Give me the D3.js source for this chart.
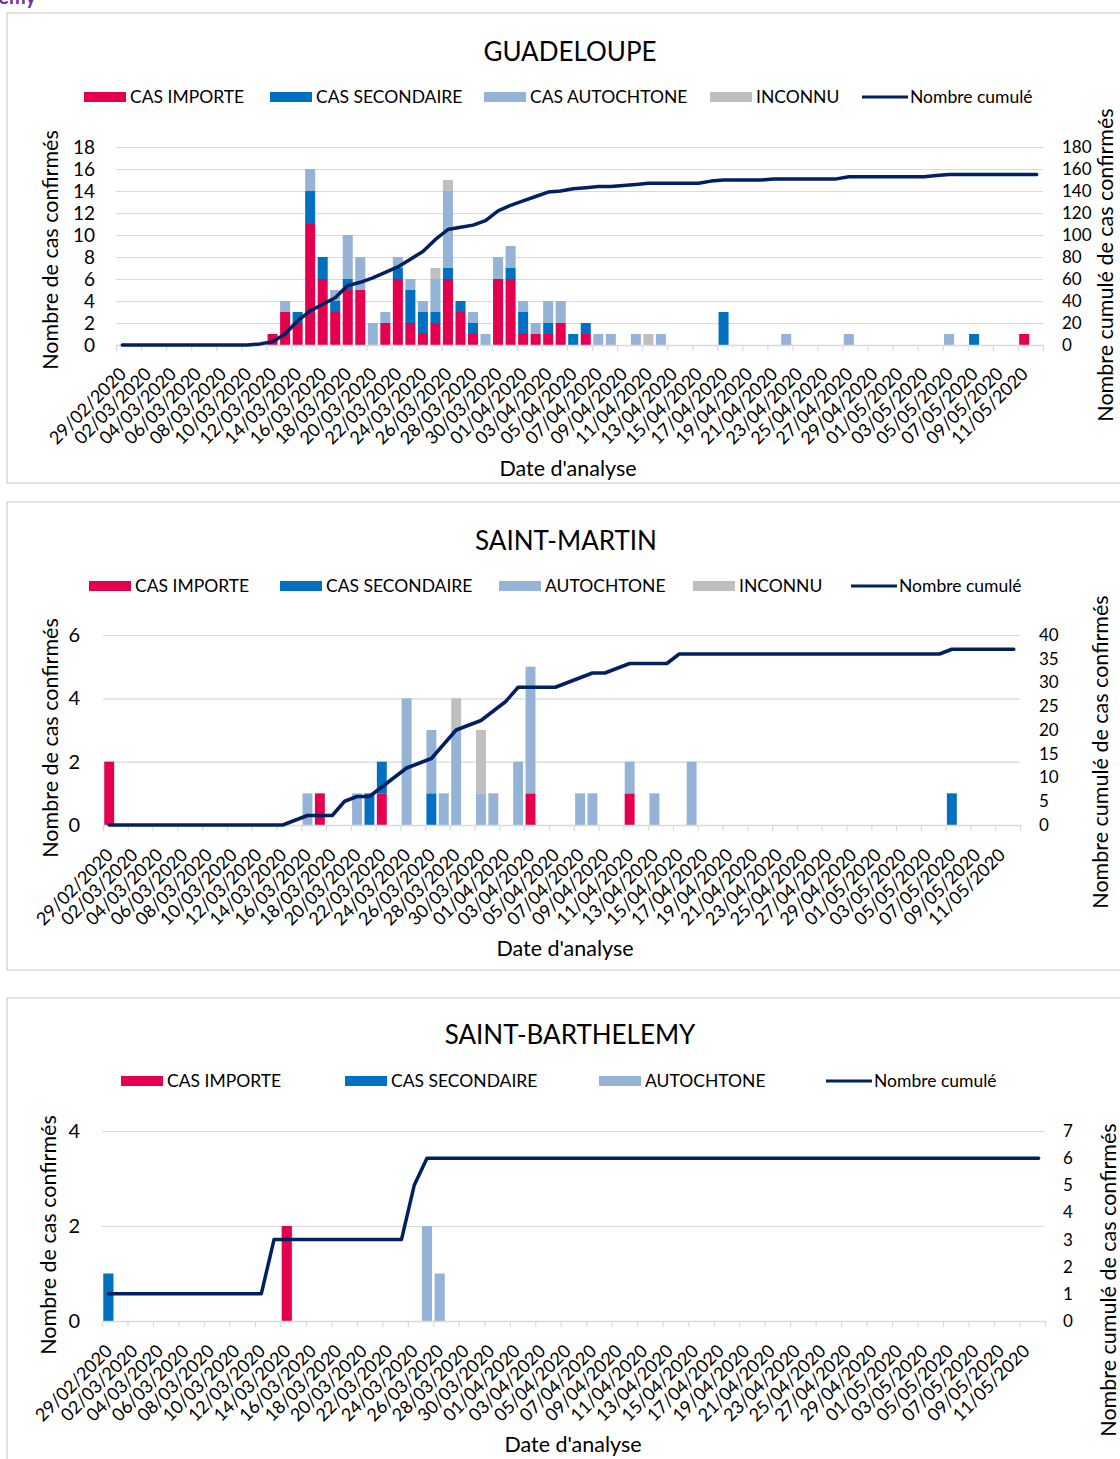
<!DOCTYPE html>
<html>
<head>
<meta charset="utf-8">
<script src="https://cdn.jsdelivr.net/npm/d3@7"></script>
<style>
  body { margin: 0; background: #fff; }
  text { font-family: Lato, "Open Sans", sans-serif; fill: #000; }
</style>
</head>
<body>
<div id="chart"></div>
<script>
// x categories : one per day, 29/02/2020 -> 12/05/2020 (74 days), labelled every 2 days
const tickLabels = [
  "29/02/2020", "02/03/2020", "04/03/2020", "06/03/2020", "08/03/2020", "10/03/2020",
  "12/03/2020", "14/03/2020", "16/03/2020", "18/03/2020", "20/03/2020", "22/03/2020",
  "24/03/2020", "26/03/2020", "28/03/2020", "30/03/2020", "01/04/2020", "03/04/2020",
  "05/04/2020", "07/04/2020", "09/04/2020", "11/04/2020", "13/04/2020", "15/04/2020",
  "17/04/2020", "19/04/2020", "21/04/2020", "23/04/2020", "25/04/2020", "27/04/2020",
  "29/04/2020", "01/05/2020", "03/05/2020", "05/05/2020", "07/05/2020", "09/05/2020",
  "11/05/2020"
];
const nDays = 74;

// ---- Guadeloupe
const gpImporte = [
  0,0,0,0,0,0,0,0,0,0,
  0,0,1,3,2,11,6,3,5,5,
  0,2,6,2,1,2,6,3,1,0,
  6,6,1,1,1,2,0,1,0,0,
  0,0,0,0,0,0,0,0,0,0,
  0,0,0,0,0,0,0,0,0,0,
  0,0,0,0,0,0,0,0,0,0,
  0,0,1,0
];
const gpSecondaire = [
  0,0,0,0,0,0,0,0,0,0,
  0,0,0,0,1,3,2,1,1,0,
  0,0,1,3,2,1,1,1,1,0,
  0,1,2,0,1,0,1,1,0,0,
  0,0,0,0,0,0,0,0,3,0,
  0,0,0,0,0,0,0,0,0,0,
  0,0,0,0,0,0,0,0,1,0,
  0,0,0,0
];
const gpAutochtone = [
  0,0,0,0,0,0,0,0,0,0,
  0,0,0,1,0,2,0,1,4,3,
  2,1,1,1,1,3,7,0,1,1,
  2,2,1,1,2,2,0,0,1,1,
  0,1,0,1,0,0,0,0,0,0,
  0,0,0,1,0,0,0,0,1,0,
  0,0,0,0,0,0,1,0,0,0,
  0,0,0,0
];
const gpInconnu = [
  0,0,0,0,0,0,0,0,0,0,
  0,0,0,0,0,0,0,0,0,0,
  0,0,0,0,0,1,1,0,0,0,
  0,0,0,0,0,0,0,0,0,0,
  0,0,1,0,0,0,0,0,0,0,
  0,0,0,0,0,0,0,0,0,0,
  0,0,0,0,0,0,0,0,0,0,
  0,0,0,0
];
const gpCumul = [
  0,0,0,0,0,0,0,0,0,0,
  0,1,3,10,22,31,37,43,54,57,
  61,66,71,78,85,96,105,107,109,113,
  122,127,131,135,139,140,142,143,144,144,
  145,146,147,147,147,147,147,149,150,150,
  150,150,151,151,151,151,151,151,153,153,
  153,153,153,153,153,154,155,155,155,155,
  155,155,155,155
];

// ---- Saint-Martin
const smImporte = [
  2,0,0,0,0,0,0,0,0,0,
  0,0,0,0,0,0,0,1,0,0,
  0,0,1,0,0,0,0,0,0,0,
  0,0,0,0,1,0,0,0,0,0,
  0,0,1,0,0,0,0,0,0,0,
  0,0,0,0,0,0,0,0,0,0,
  0,0,0,0,0,0,0,0,0,0,
  0,0,0,0
];
const smSecondaire = [
  0,0,0,0,0,0,0,0,0,0,
  0,0,0,0,0,0,0,0,0,0,
  0,1,1,0,0,0,1,0,0,0,
  0,0,0,0,0,0,0,0,0,0,
  0,0,0,0,0,0,0,0,0,0,
  0,0,0,0,0,0,0,0,0,0,
  0,0,0,0,0,0,0,0,1,0,
  0,0,0,0
];
const smAutochtone = [
  0,0,0,0,0,0,0,0,0,0,
  0,0,0,0,0,0,1,0,0,0,
  1,0,0,0,4,0,2,1,3,0,
  1,1,0,2,4,0,0,0,1,1,
  0,0,1,0,1,0,0,2,0,0,
  0,0,0,0,0,0,0,0,0,0,
  0,0,0,0,0,0,0,0,0,0,
  0,0,0,0
];
const smInconnu = [
  0,0,0,0,0,0,0,0,0,0,
  0,0,0,0,0,0,0,0,0,0,
  0,0,0,0,0,0,0,0,1,0,
  2,0,0,0,0,0,0,0,0,0,
  0,0,0,0,0,0,0,0,0,0,
  0,0,0,0,0,0,0,0,0,0,
  0,0,0,0,0,0,0,0,0,0,
  0,0,0,0
];
const smCumul = [
  0,0,0,0,0,0,0,0,0,0,
  0,0,0,0,0,1,2,2,2,5,
  6,6,8,10,12,13,14,17,20,21,
  22,24,26,29,29,29,29,30,31,32,
  32,33,34,34,34,34,36,36,36,36,
  36,36,36,36,36,36,36,36,36,36,
  36,36,36,36,36,36,36,36,37,37,
  37,37,37,37
];

// ---- Saint-Barthelemy
const sbImporte = [
  0,0,0,0,0,0,0,0,0,0,
  0,0,0,0,2,0,0,0,0,0,
  0,0,0,0,0,0,0,0,0,0,
  0,0,0,0,0,0,0,0,0,0,
  0,0,0,0,0,0,0,0,0,0,
  0,0,0,0,0,0,0,0,0,0,
  0,0,0,0,0,0,0,0,0,0,
  0,0,0,0
];
const sbSecondaire = [
  1,0,0,0,0,0,0,0,0,0,
  0,0,0,0,0,0,0,0,0,0,
  0,0,0,0,0,0,0,0,0,0,
  0,0,0,0,0,0,0,0,0,0,
  0,0,0,0,0,0,0,0,0,0,
  0,0,0,0,0,0,0,0,0,0,
  0,0,0,0,0,0,0,0,0,0,
  0,0,0,0
];
const sbAutochtone = [
  0,0,0,0,0,0,0,0,0,0,
  0,0,0,0,0,0,0,0,0,0,
  0,0,0,0,0,2,1,0,0,0,
  0,0,0,0,0,0,0,0,0,0,
  0,0,0,0,0,0,0,0,0,0,
  0,0,0,0,0,0,0,0,0,0,
  0,0,0,0,0,0,0,0,0,0,
  0,0,0,0
];
const sbCumul = [
  1,1,1,1,1,1,1,1,1,1,
  1,1,1,3,3,3,3,3,3,3,
  3,3,3,3,5,6,6,6,6,6,
  6,6,6,6,6,6,6,6,6,6,
  6,6,6,6,6,6,6,6,6,6,
  6,6,6,6,6,6,6,6,6,6,
  6,6,6,6,6,6,6,6,6,6,
  6,6,6,6
];

const colors = {
  importe: "#e4004f",
  secondaire: "#0070c0",
  autochtone: "#95b3d7",
  inconnu: "#bfbfbf",
  cumul: "#002060"
};
const gridColor = "#d9d9d9";

const W = 1120, H = 1459;
const svg = d3.select("#chart").append("svg")
  .attr("xmlns", "http://www.w3.org/2000/svg")
  .attr("width", W)
  .attr("height", H);

// cut-off heading of the page above
svg.append("text")
  .attr("x", 36).attr("y", 4)
  .attr("text-anchor", "end")
  .style("font-weight", "bold")
  .style("font-size", "20px")
  .style("fill", "#7030a0")
  .text("Barthélemy");

function drawPanel(cfg) {
  const { box, title, titleY, legendY, legend, plot, left, right } = cfg;

  const g = svg.append("g");

  g.append("rect")
    .attr("x", box.x).attr("y", box.y)
    .attr("width", box.w).attr("height", box.h)
    .attr("fill", "#fff")
    .attr("stroke", gridColor)
    .attr("stroke-width", 1.5);

  g.append("text")
    .attr("x", cfg.titleX).attr("y", titleY)
    .attr("text-anchor", "middle")
    .attr("dy", "0.35em")
    .style("font-size", "26px")
    .text(title);

  // legend
  const lg = g.append("g").attr("transform", `translate(0,${legendY})`);
  legend.forEach(item => {
    if (item.key === "cumul") {
      lg.append("line")
        .attr("x1", item.x).attr("x2", item.x + 46)
        .attr("y1", 0).attr("y2", 0)
        .attr("stroke", colors.cumul)
        .attr("stroke-width", 3);
    } else {
      lg.append("rect")
        .attr("x", item.x).attr("y", -5)
        .attr("width", 42).attr("height", 10)
        .attr("fill", colors[item.key]);
    }
    lg.append("text")
      .attr("x", item.x + (item.key === "cumul" ? 48 : 46))
      .attr("y", 0)
      .attr("dy", "0.35em")
      .style("font-size", "17.5px")
      .text(item.label);
  });

  // scales
  const x = d3.scaleBand()
    .domain(d3.range(nDays))
    .range([plot.l, plot.r])
    .paddingInner(0.2)
    .paddingOuter(0.1);
  const xTicks = d3.scaleLinear().domain([0, nDays]).range([plot.l, plot.r]);
  const yL = d3.scaleLinear().domain([0, left.max]).range([plot.b, plot.t]);
  const yR = d3.scaleLinear().domain([0, right.max]).range([plot.b, plot.t]);
  const fmt = d3.format("d");

  // gridlines
  g.append("g")
    .attr("transform", `translate(${plot.l},0)`)
    .call(d3.axisLeft(yL).tickValues(d3.range(left.step, left.max + 0.01, left.step))
      .tickSize(-(plot.r - plot.l)).tickFormat(""))
    .call(a => a.select(".domain").remove())
    .call(a => a.selectAll("line").attr("stroke", gridColor).attr("stroke-width", 1.2));

  // left axis labels
  g.append("g")
    .attr("transform", `translate(${plot.l - left.gap},0)`)
    .call(d3.axisLeft(yL).tickValues(d3.range(0, left.max + 0.01, left.step))
      .tickFormat(fmt).tickSize(0).tickPadding(0))
    .call(a => a.select(".domain").remove())
    .call(a => a.selectAll("text").style("font-size", left.font + "px")
      .style("font-family", "Lato, sans-serif").attr("fill", "#000"));

  // right axis labels
  g.append("g")
    .attr("transform", `translate(${plot.r + right.gap},0)`)
    .call(d3.axisRight(yR).tickValues(d3.range(0, right.max + 0.01, right.step))
      .tickFormat(fmt).tickSize(0).tickPadding(0))
    .call(a => a.select(".domain").remove())
    .call(a => a.selectAll("text").style("font-size", right.font + "px")
      .style("font-family", "Lato, sans-serif").attr("fill", "#000"));

  // stacked bars
  const keys = ["importe", "secondaire", "autochtone", "inconnu"];
  const rows = d3.range(nDays).map(i => ({
    i,
    importe: cfg.importe[i],
    secondaire: cfg.secondaire[i],
    autochtone: cfg.autochtone[i],
    inconnu: cfg.inconnu ? cfg.inconnu[i] : 0
  }));
  const stacked = d3.stack().keys(keys)(rows);

  g.append("g")
    .selectAll("g")
    .data(stacked)
    .join("g")
    .attr("fill", d => colors[d.key])
    .selectAll("rect")
    .data(d => d.filter(s => s[1] > s[0]))
    .join("rect")
    .attr("x", s => x(s.data.i))
    .attr("width", x.bandwidth())
    .attr("y", s => yL(s[1]))
    .attr("height", s => yL(s[0]) - yL(s[1]));

  // x axis line + ticks
  g.append("g")
    .attr("transform", `translate(0,${plot.b})`)
    .call(d3.axisBottom(xTicks).tickValues(d3.range(0, nDays + 1, 2)).tickSize(6).tickSizeOuter(0).tickFormat(""))
    .call(a => a.select(".domain").attr("stroke", gridColor).attr("stroke-width", 1.5))
    .call(a => a.selectAll("line").attr("stroke", gridColor).attr("stroke-width", 1.2));

  // cumulative line
  g.append("path")
    .datum(cfg.cumul)
    .attr("fill", "none")
    .attr("stroke", colors.cumul)
    .attr("stroke-width", 3.5)
    .attr("stroke-linejoin", "round")
    .attr("stroke-linecap", "round")
    .attr("d", d3.line()
      .x((d, i) => x(i) + x.bandwidth() / 2)
      .y(d => yR(d)));

  // rotated date labels
  g.append("g")
    .selectAll("text")
    .data(tickLabels)
    .join("text")
    .attr("text-anchor", "end")
    .attr("transform", (d, k) => {
      const cx = x(k * 2) + x.bandwidth() / 2;
      return `translate(${cx + cfg.lab.dx},${plot.b + cfg.lab.dy}) rotate(-45)`;
    })
    .style("font-size", cfg.lab.font + "px")
    .text(d => d);

  // axis titles
  g.append("text")
    .attr("transform", `translate(${cfg.leftTitle.x},${cfg.leftTitle.y}) rotate(-90)`)
    .attr("text-anchor", "middle")
    .attr("dy", "0.35em")
    .style("font-size", "21.5px")
    .text("Nombre de cas confirmés");

  g.append("text")
    .attr("transform", `translate(${cfg.rightTitle.x},${cfg.rightTitle.y}) rotate(-90)`)
    .attr("text-anchor", "middle")
    .attr("dy", "0.35em")
    .style("font-size", "21.5px")
    .text("Nombre cumulé de cas confirmés");

  g.append("text")
    .attr("x", cfg.xTitle.x).attr("y", cfg.xTitle.y)
    .attr("text-anchor", "middle")
    .attr("dy", "0.35em")
    .style("font-size", "21.5px")
    .text("Date d'analyse");
}

drawPanel({
  title: "GUADELOUPE", titleX: 570, titleY: 52,
  box: { x: 7, y: 13, w: 1130, h: 470 },
  legendY: 97,
  legend: [
    { key: "importe", label: "CAS IMPORTE", x: 84 },
    { key: "secondaire", label: "CAS SECONDAIRE", x: 270 },
    { key: "autochtone", label: "CAS AUTOCHTONE", x: 484 },
    { key: "inconnu", label: "INCONNU", x: 710 },
    { key: "cumul", label: "Nombre cumulé", x: 862 }
  ],
  plot: { l: 116, r: 1043, t: 147, b: 345 },
  left: { max: 18, step: 2, gap: 21, font: 19 },
  right: { max: 180, step: 20, gap: 19, font: 17 },
  lab: { dx: 5, dy: 30, font: 18 },
  leftTitle: { x: 50, y: 250 },
  rightTitle: { x: 1105, y: 265 },
  xTitle: { x: 568, y: 468 },
  importe: gpImporte, secondaire: gpSecondaire, autochtone: gpAutochtone,
  inconnu: gpInconnu, cumul: gpCumul
});

drawPanel({
  title: "SAINT-MARTIN", titleX: 566, titleY: 541,
  box: { x: 7, y: 502, w: 1130, h: 468 },
  legendY: 586,
  legend: [
    { key: "importe", label: "CAS IMPORTE", x: 89 },
    { key: "secondaire", label: "CAS SECONDAIRE", x: 280 },
    { key: "autochtone", label: "AUTOCHTONE", x: 499 },
    { key: "inconnu", label: "INCONNU", x: 693 },
    { key: "cumul", label: "Nombre cumulé", x: 851 }
  ],
  plot: { l: 103, r: 1020, t: 635, b: 825 },
  left: { max: 6, step: 2, gap: 23, font: 20 },
  right: { max: 40, step: 5, gap: 19, font: 17 },
  lab: { dx: 5, dy: 31, font: 18 },
  leftTitle: { x: 50, y: 738 },
  rightTitle: { x: 1100, y: 752 },
  xTitle: { x: 565, y: 948 },
  importe: smImporte, secondaire: smSecondaire, autochtone: smAutochtone,
  inconnu: smInconnu, cumul: smCumul
});

drawPanel({
  title: "SAINT-BARTHELEMY", titleX: 570, titleY: 1035,
  box: { x: 7, y: 998, w: 1130, h: 480 },
  legendY: 1081,
  legend: [
    { key: "importe", label: "CAS IMPORTE", x: 121 },
    { key: "secondaire", label: "CAS SECONDAIRE", x: 345 },
    { key: "autochtone", label: "AUTOCHTONE", x: 599 },
    { key: "cumul", label: "Nombre cumulé", x: 826 }
  ],
  plot: { l: 102, r: 1045, t: 1131, b: 1321 },
  left: { max: 4, step: 2, gap: 22, font: 20 },
  right: { max: 7, step: 1, gap: 18, font: 17 },
  lab: { dx: 5, dy: 31, font: 18 },
  leftTitle: { x: 48, y: 1235 },
  rightTitle: { x: 1108, y: 1280 },
  xTitle: { x: 573, y: 1444 },
  importe: sbImporte, secondaire: sbSecondaire, autochtone: sbAutochtone,
  inconnu: null, cumul: sbCumul
});
</script>
</body>
</html>
